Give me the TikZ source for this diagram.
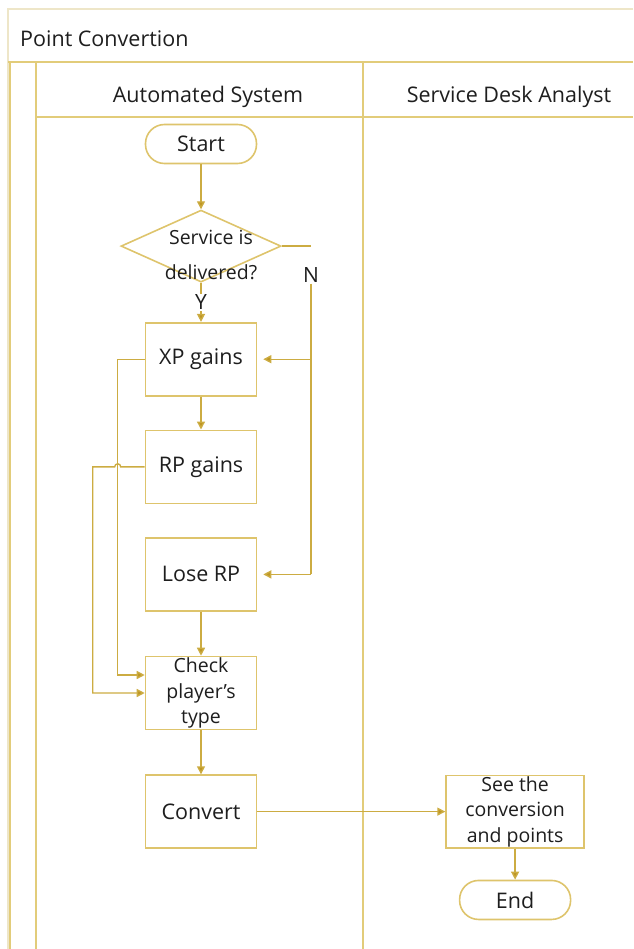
\documentclass[tikz,border=0pt]{standalone}
\usepackage{fontspec}
\setmainfont{Open Sans}
\usepackage{xcolor}
\usetikzlibrary{arrows.meta,positioning,shapes.geometric}
\definecolor{laneline}{RGB}{226,204,122}
\definecolor{faintline}{RGB}{238,230,200}
\definecolor{boxline}{RGB}{222,196,108}
\definecolor{flowline}{RGB}{204,172,66}
\definecolor{headfill}{RGB}{190,150,34}
\definecolor{ink}{RGB}{30,30,30}

\begin{document}
\begin{tikzpicture}[x=1pt, y=-1pt,
    lane/.style={draw=laneline, line width=2.2pt},
    faint/.style={draw=faintline, line width=1.2pt},
    heading/.style={font=\fontsize{21.5}{25}\selectfont, text=ink, inner sep=0pt},
    task/.style={rectangle, draw=boxline, line width=1.6pt, fill=white, minimum width=111pt, minimum height=73pt, align=center, font=\fontsize{21.5}{25}\selectfont, text=ink},
    smalltask/.style={task, font=\fontsize{19.5}{25.5}\selectfont, inner sep=1pt},
    terminal/.style={rectangle, rounded corners=19pt, draw=boxline, line width=1.6pt, minimum width=111pt, minimum height=39pt, align=center, font=\fontsize{21.5}{25}\selectfont, text=ink},
    decision/.style={diamond, draw=boxline, line width=1.6pt, minimum width=160pt, minimum height=72pt, inner sep=0pt},
    decisiontext/.style={align=center, font=\fontsize{19.5}{35}\selectfont, text=ink, inner sep=0pt},
    branch/.style={font=\fontsize{21}{25}\selectfont, text=ink, inner sep=1pt},
    arrow/.style={draw=flowline, line width=1.4pt, -{Triangle[length=8pt, width=8pt, fill=headfill]}},
    link/.style={draw=flowline, line width=1.4pt}
]
\useasboundingbox (0,0) rectangle (633,949);

% pool and lanes
\draw[faint] (8,949) -- (8,9) -- (633,9);
\draw[lane] (8,62) -- (633,62);
\draw[lane] (10,62) -- (10,949);
\draw[lane] (36,62) -- (36,949);
\draw[lane] (36,117) -- (633,117);
\draw[lane] (363,62) -- (363,949);

\node[heading, anchor=west] (pool) at (20,39) {Point Convertion};
\node[heading] (autosys) at (208,97) {Automated System};
\node[heading] (analyst) at (509,97) {Service Desk Analyst};

% flow
\node[terminal] (start) at (201,144) {Start};
\node[decision, below=45pt of start] (dec) {};
\node[decisiontext] (dectext) at ([xshift=10pt, yshift=-9pt]dec.center) {Service is\\delivered?};
\node[task, below=39pt of dec] (xp) {XP gains};
\node[task, below=33pt of xp] (rp) {RP gains};
\node[task, below=33pt of rp] (lose) {Lose RP};
\node[smalltask, below=44pt of lose] (check) {Check\\player's\\type};
\node[task, below=44pt of check] (convert) {Convert};
\node[smalltask, minimum width=138pt, minimum height=72pt, right=188pt of convert] (see) {See the\\conversion\\and points};
\node[terminal, below=31pt of see] (end) {End};

\node[branch] (nlab) at (311,275) {N};

\draw[arrow] (start) -- (dec);
\draw[arrow] (dec.south) -- node[branch, fill=white] (ylab) {Y} (xp.north);
\draw[link] (dec.east) -- (dec.east -| nlab);
\draw[link] (nlab.south) -- (nlab |- lose.east);
\draw[arrow, shorten >=6pt] (nlab |- xp.east) -- (xp.east);
\draw[arrow, shorten >=6pt] (nlab |- lose.east) -- (lose.east);
\draw[arrow] (xp) -- (rp);
\draw[arrow] (lose) -- (check);
\draw[arrow] (xp.west) -- ++(-27,0) |- ([yshift=18pt]check.west);
\draw[arrow] (rp.west) -- ++(-24,0) arc[start angle=0, end angle=180, radius=3pt] -- ++(-22,0) |- (check.west);
\draw[arrow] (check) -- (convert);
\draw[arrow] (convert) -- (see);
\draw[arrow] (see) -- (end);
\end{tikzpicture}
\end{document}
